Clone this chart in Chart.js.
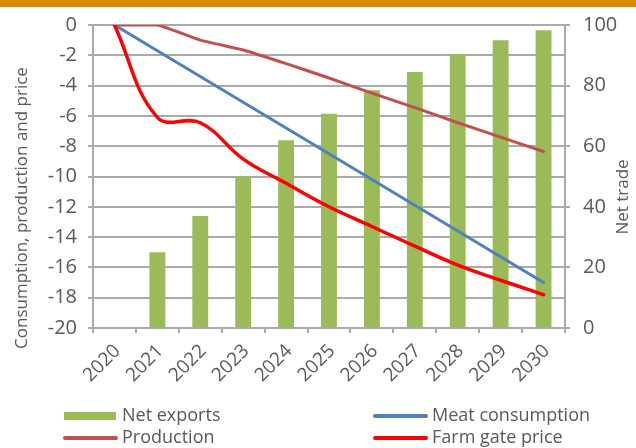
<!DOCTYPE html>
<html lang="en">
<head>
<meta charset="UTF-8">
<script src="https://cdn.jsdelivr.net/npm/chart.js"></script>
<title>Meat outlook</title>
<style>
  body { margin: 0; background: #fff; }
  #wrap { width: 636px; height: 448px; }
</style>
</head>
<body>
<div id="wrap"><canvas id="myChart" width="636" height="448"></canvas></div>
<script>
// data
const years = ['2020', '2021', '2022', '2023', '2024', '2025', '2026', '2027', '2028', '2029', '2030'];
const netExports = [0, 25, 37, 50, 62, 70.7, 78.5, 84.5, 90.4, 95, 98.3];
const meatConsumption = [0, -1.7, -3.4, -5.1, -6.8, -8.5, -10.2, -11.9, -13.6, -15.3, -17];
const production = [0, 0, -1.0, -1.65, -2.55, -3.5, -4.5, -5.45, -6.45, -7.4, -8.35];
const farmGatePrice = [0, -6.1, -6.45, -8.85, -10.45, -12.0, -13.3, -14.6, -15.85, -16.85, -17.8];

const leftTitle = 'Consumption, production and price';
const rightTitle = 'Net trade';

const grey = '#595959';
const gridGrey = '#aaaaaa';
const font = '"Open Sans", "DejaVu Sans", sans-serif';

// orange strip, axis titles and the 2x2 legend
const extras = {
  id: 'extras',
  beforeDraw(chart) {
    const c = chart.ctx;
    c.save();
    c.fillStyle = '#fff';
    c.fillRect(0, 0, chart.width, chart.height);
    c.fillStyle = '#d88c06';
    c.fillRect(0, 0, chart.width, 7);
    c.restore();
  },
  afterDraw(chart) {
    const c = chart.ctx;
    c.save();
    c.fillStyle = grey;
    c.font = '17px ' + font;
    c.textAlign = 'center';
    c.textBaseline = 'middle';
    c.translate(22, 208);
    c.rotate(-Math.PI / 2);
    c.fillText(leftTitle, 0, 0);
    c.restore();

    c.save();
    c.fillStyle = grey;
    c.font = '17px ' + font;
    c.textAlign = 'center';
    c.textBaseline = 'middle';
    c.translate(623, 197);
    c.rotate(-Math.PI / 2);
    c.fillText(rightTitle, 0, 0);
    c.restore();

    // legend
    const ds = chart.data.datasets;
    const slots = [[64, 416], [374, 416], [64, 438], [374, 438]];
    c.save();
    c.font = '18px ' + font;
    c.textBaseline = 'middle';
    c.textAlign = 'left';
    ds.forEach((d, i) => {
      const [x, y] = slots[i];
      if (d.type === 'bar') {
        c.fillStyle = d.backgroundColor;
        c.fillRect(x, y - 4, 52, 8);
      } else {
        c.strokeStyle = d.borderColor;
        c.lineWidth = 4;
        c.lineCap = 'round';
        c.beginPath();
        c.moveTo(x + 1, y);
        c.lineTo(x + 52, y);
        c.stroke();
      }
      c.fillStyle = grey;
      c.fillText(d.label, x + 58, y);
    });
    c.restore();
  }
};

const ctx = document.getElementById('myChart').getContext('2d');
const chart = new Chart(ctx, {
  data: {
    labels: years,
    datasets: [
      {
        type: 'bar',
        label: 'Net exports',
        data: netExports,
        yAxisID: 'y1',
        backgroundColor: '#9bbb59',
        barPercentage: 0.37,
        categoryPercentage: 1,
        order: 4
      },
      {
        type: 'line',
        label: 'Meat consumption',
        data: meatConsumption,
        yAxisID: 'y',
        borderColor: '#4f81bd',
        borderWidth: 3,
        pointRadius: 0,
        tension: 0,
        borderCapStyle: 'round',
        order: 2
      },
      {
        type: 'line',
        label: 'Production',
        data: production,
        yAxisID: 'y',
        borderColor: '#c0504d',
        borderWidth: 3,
        pointRadius: 0,
        tension: 0.15,
        borderCapStyle: 'round',
        order: 3
      },
      {
        type: 'line',
        label: 'Farm gate price',
        data: farmGatePrice,
        yAxisID: 'y',
        borderColor: '#ff0000',
        borderWidth: 3.5,
        pointRadius: 0,
        tension: 0.4,
        borderCapStyle: 'round',
        order: 1
      }
    ]
  },
  options: {
    responsive: false,
    animation: false,
    layout: { padding: { top: 25, left: 0, right: 0, bottom: 0 } },
    plugins: {
      legend: { display: false },
      tooltip: { enabled: false }
    },
    scales: {
      x: {
        type: 'category',
        offset: true,
        afterFit: (s) => { s.height = 120; },
        grid: { offset: true, drawOnChartArea: false, tickLength: 5, color: gridGrey, lineWidth: 2 },
        border: { color: gridGrey, width: 2 },
        ticks: { color: grey, font: { family: font, size: 19 }, minRotation: 45, maxRotation: 45, padding: 7, labelOffset: 3 }
      },
      y: {
        position: 'left',
        min: -20,
        max: 0,
        afterFit: (s) => { s.width = 93; },
        grid: { color: gridGrey, lineWidth: 2, tickLength: 5 },
        border: { color: gridGrey, width: 2 },
        ticks: { stepSize: 2, color: grey, font: { family: font, size: 20 }, padding: 11 }
      },
      y1: {
        position: 'right',
        min: 0,
        max: 100,
        afterFit: (s) => { s.width = 71; },
        grid: { drawOnChartArea: false, color: gridGrey, lineWidth: 2, tickLength: 5 },
        border: { color: gridGrey, width: 2 },
        ticks: { stepSize: 20, color: grey, font: { family: font, size: 20 }, padding: 13 }
      }
    }
  },
  plugins: [extras]
});
</script>
</body>
</html>
